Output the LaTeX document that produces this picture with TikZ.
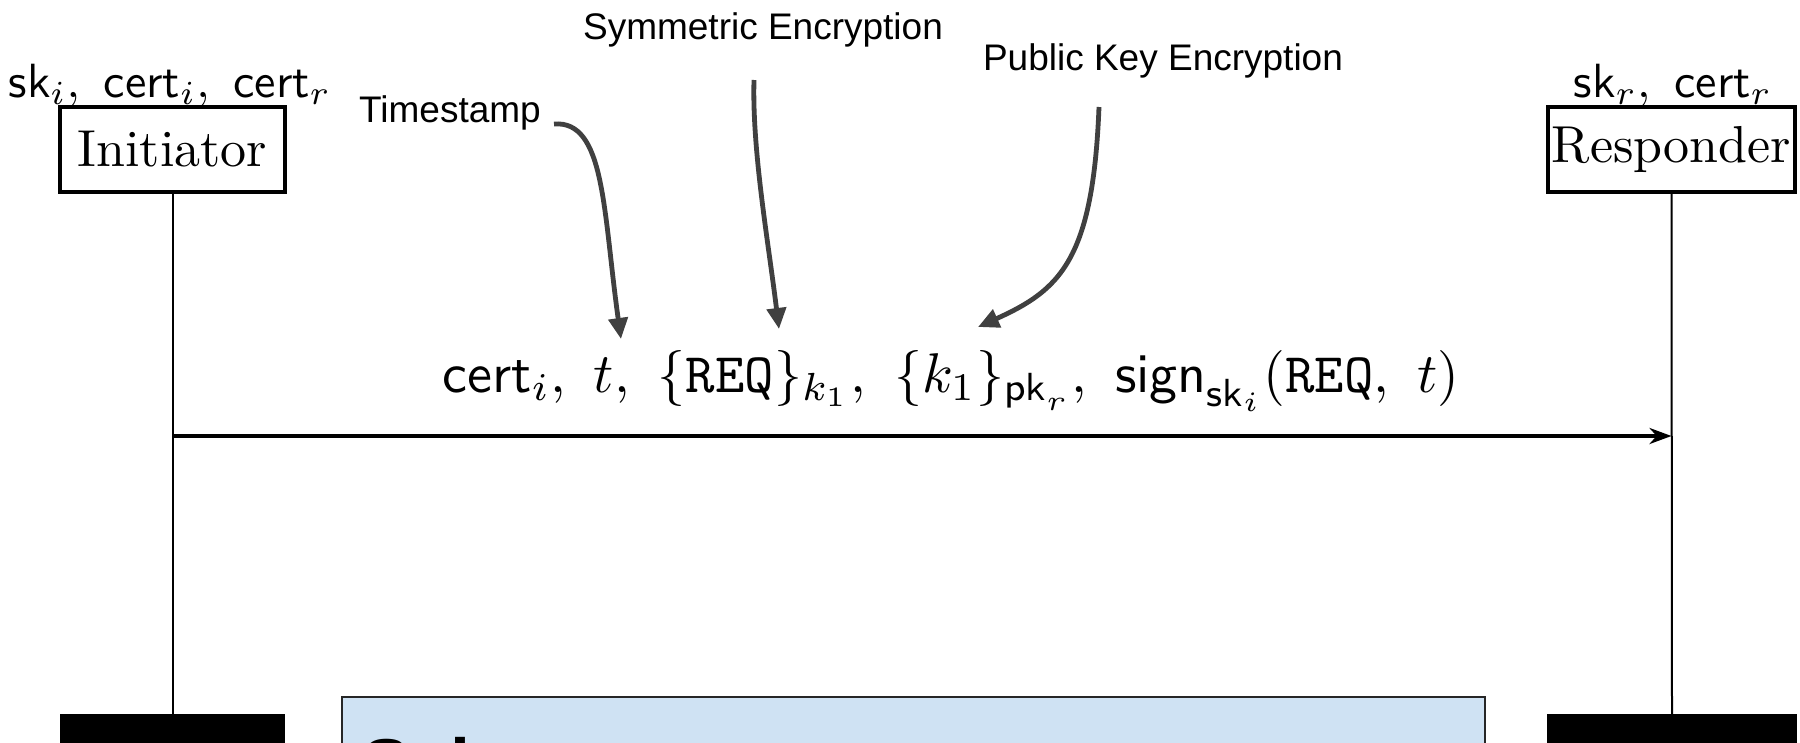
\documentclass[tikz,border=0pt]{standalone}
\usepackage{fontspec}
\usepackage{graphicx}
\usetikzlibrary{arrows.meta}
\newfontfamily\labelfont{Liberation Sans}
\definecolor{calloutgray}{HTML}{404040}
\definecolor{notefill}{HTML}{CFE2F3}
\begin{document}
\begin{tikzpicture}[x=1pt,y=-1pt,
  party/.style={draw, line width=4pt, minimum width=225pt, minimum height=85pt, inner sep=0pt},
  lifeline/.style={line width=2pt},
  endbar/.style={fill=black, minimum width=225pt, minimum height=60pt, inner sep=0pt, anchor=north},
  callout/.style={draw=calloutgray, line width=4.8pt, -{Triangle[length=21pt,width=19pt]}},
  calloutlbl/.style={font=\labelfont\fontsize{37}{44}\selectfont, inner sep=0pt},
  mathlbl/.style={scale=4.8, inner sep=0pt},
]
\clip (0,0) rectangle (1800,742);
\fill[white] (0,0) rectangle (1800,742);

% parties and their keys
\node[party] (ini) at (172.5,149.5) {\scalebox{5.2}{Initiator}};
\node[party, minimum width=247pt] (resp) at (1671.5,149.5) {\scalebox{5.2}{Responder}};
\node[mathlbl, anchor=base] (inikeys) at (170,97) {$\mathsf{sk}_i,\ \mathsf{cert}_i,\ \mathsf{cert}_r$};
\node[mathlbl, anchor=base] (respkeys) at (1673,97) {$\mathsf{sk}_r,\ \mathsf{cert}_r$};

% lifelines
\node[endbar] (iniend) at (172.5,714) {};
\node[endbar, minimum width=250pt] (respend) at (1672,714) {};
\draw[lifeline] (ini.south) -- (iniend.north);
\draw[lifeline] (resp.south) -- (respend.north);

% message
\coordinate (msgy) at (0,436);
\node[scale=5.6, inner sep=0pt] (msg) at (951,381)
  {$\mathsf{cert}_i,\ t,\ \{\mathtt{REQ}\}_{k_1},\ \{k_1\}_{\mathsf{pk}_r},\ \mathsf{sign}_{\mathsf{sk}_i}(\mathtt{REQ},\ t)$};
\draw[line width=3.8pt, -{Stealth[length=22pt,width=16pt]}] (ini |- msgy) -- (resp |- msgy);

% annotations
\node[calloutlbl, anchor=east] (ts) at (541,113) {Timestamp};
\node[calloutlbl] (se) at (763,30) {Symmetric Encryption};
\node[calloutlbl] (pke) at (1163,61) {Public Key Encryption};
\coordinate (tsS) at (554,124);
\coordinate (tsE) at (621,339);
\coordinate (seS) at (754,80);
\coordinate (seE) at (779,329);
\coordinate (pkS) at (1099,107);
\coordinate (pkE) at (978,327);
\draw[callout] (tsS) .. controls (605,120) and (603,210) .. (tsE);
\draw[callout] (seS) .. controls (752,150) and (768,240) .. (seE);
\draw[callout] (pkS) .. controls (1093,260) and (1060,290) .. (pkE);

% note box at the bottom
\node[draw=black!85, line width=2pt, fill=notefill, anchor=north west,
      minimum width=1143pt, minimum height=100pt, inner sep=0pt] (scheme) at (341,696) {};
\node[anchor=base west, inner sep=0pt, font=\labelfont\bfseries\fontsize{72}{80}\selectfont]
  (schemetitle) at (362,789) {Sch};
\end{tikzpicture}
\end{document}
